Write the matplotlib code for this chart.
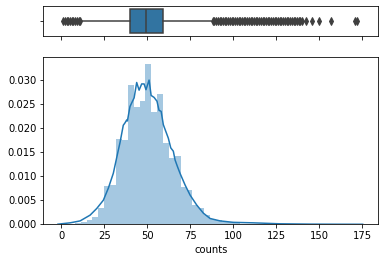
import numpy as np
import matplotlib
matplotlib.use("Agg")
import matplotlib.pyplot as plt

# histogram (density) of counts, 50 bins between min and max
bin_lo, bin_hi, n_bins = 1, 172, 50
hist_density = [0.00005, 0.0001, 0.0002, 0.0004, 0.0008, 0.0016, 0.0034, 0.0080, 0.0082, 0.0178,
                0.0176, 0.0290, 0.0245, 0.0257, 0.0333, 0.0233, 0.0271, 0.0169, 0.0138, 0.0143,
                0.0078, 0.0071, 0.0040, 0.0033, 0.0019, 0.0012, 0.0008, 0.0005, 0.0004, 0.0002,
                0.00015, 0.0001, 0.00008, 0.00006, 0.00004, 0.00003, 0.00002, 0.00001, 0.00001, 0.00001,
                0.00001, 0.0, 0.0, 0.00001, 0.0, 0.0, 0.0, 0.0, 0.0, 0.00001]

# kde curve
kde_x = [-2.0, 0, 5.1, 10.9, 16.7, 20.6, 24.4, 27.3, 30.2, 33.1, 34.1, 36.0, 37.0, 38.0, 38.4,
         39.9, 42.3, 43.8, 45.2, 46.7, 48.1, 49.2, 51.0, 52.2, 53.9, 55.6, 56.8, 58.0, 59.3,
         62.2, 63.6, 65.1, 66.1, 67.4, 69.0, 71.9, 74.8, 78.7, 82.6, 86.5, 92.3, 100, 111.5,
         127, 145, 160, 175.2]
kde_y = [0.00002, 0.0001, 0.0003, 0.0007, 0.0019, 0.0033, 0.0050, 0.0075, 0.0106, 0.0154, 0.0170,
         0.0206, 0.0211, 0.0217, 0.0215, 0.0245, 0.0263, 0.0295, 0.0279, 0.0292, 0.0292, 0.0280,
         0.0300, 0.0268, 0.0264, 0.0256, 0.0237, 0.0235, 0.0207, 0.0179, 0.0159, 0.0152, 0.0134,
         0.0121, 0.0106, 0.0082, 0.0061, 0.0040, 0.0023, 0.0012, 0.0007, 0.0004, 0.0003, 0.0001,
         0.00003, 0.00001, 0.0]

# boxplot summary
q1, median, q3 = 40, 49, 59
whisker_lo, whisker_hi = 12, 87
fliers = list(range(1, 12)) + list(range(88, 141)) + [142, 146, 150, 157, 171, 172]

blue = "#1f77b4"
box_blue = "#3274a1"
gray = "#3f3f3f"

fig = plt.figure(figsize=(384 / 72, 262 / 72), dpi=72)
ax_box = fig.add_axes([0.1128, 0.8626, 0.8724, 0.1144])
ax_hist = fig.add_axes([0.1128, 0.144, 0.8724, 0.6384], sharex=ax_box)

stats = [{"med": median, "q1": q1, "q3": q3, "whislo": whisker_lo, "whishi": whisker_hi,
          "fliers": fliers}]
ax_box.bxp(stats, positions=[0], widths=0.8, vert=False, patch_artist=True,
           boxprops=dict(facecolor=box_blue, edgecolor=gray, linewidth=1.5),
           whiskerprops=dict(color=gray, linewidth=1.5),
           capprops=dict(color=gray, linewidth=0),
           medianprops=dict(color=gray, linewidth=1.5),
           flierprops=dict(marker="d", markerfacecolor=gray, markeredgecolor=gray,
                           markersize=5, linestyle="none"))
ax_box.set_ylim(0.5, -0.5)
ax_box.set_yticks([0])
ax_box.set_yticklabels([""])
ax_box.tick_params(labelbottom=False)

edges = np.linspace(bin_lo, bin_hi, n_bins + 1)
ax_hist.bar(edges[:-1], hist_density, width=np.diff(edges), align="edge",
            color=blue, alpha=0.4, linewidth=0)
ax_hist.plot(kde_x, kde_y, color=blue, linewidth=1.5)
ax_hist.set_xlabel("counts")
ax_hist.set_xticks([0, 25, 50, 75, 100, 125, 150, 175])
ax_hist.set_yticks([0, 0.005, 0.010, 0.015, 0.020, 0.025, 0.030])
ax_hist.yaxis.set_major_formatter(matplotlib.ticker.FormatStrFormatter("%.3f"))
ax_hist.set_ylim(0, 0.0348)
ax_hist.set_xlim(-10.5, 184.3)

fig.savefig("out.png", dpi=72)
